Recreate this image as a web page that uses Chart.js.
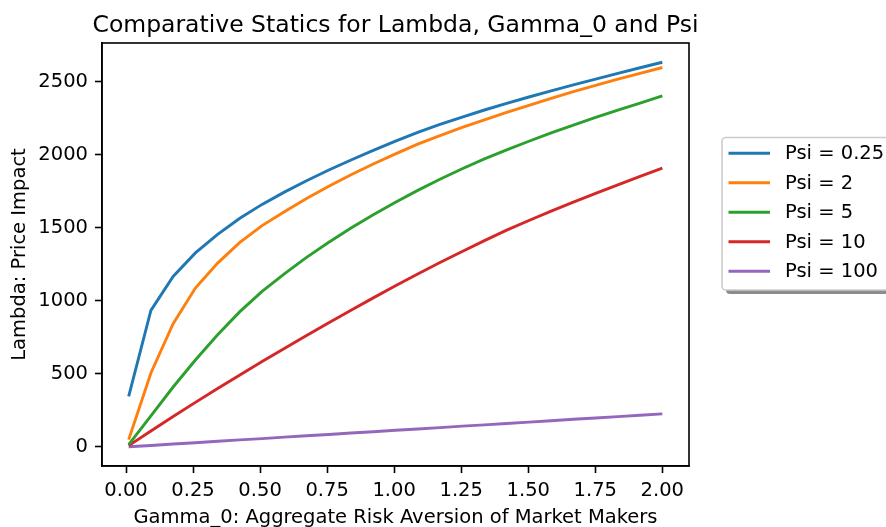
<!DOCTYPE html>
<html>
<head>
<meta charset="utf-8">
<script src="https://cdn.jsdelivr.net/npm/chart.js@4.4.0/dist/chart.umd.min.js"></script>
<style>
  html, body { margin: 0; padding: 0; background: #fff; }
  canvas { display: block; }
</style>
</head>
<body>
<canvas id="lambdaChart" width="886" height="527"></canvas>
<script>
// gamma_0 grid
const gamma0 = [0.0100, 0.0929, 0.1758, 0.2588, 0.3417, 0.4246, 0.5075, 0.5904, 0.6733, 0.7563,
  0.8392, 0.9221, 1.0050, 1.0879, 1.1708, 1.2538, 1.3367, 1.4196, 1.5025, 1.5854,
  1.6683, 1.7513, 1.8342, 1.9171, 2.0000];

const psiLabels = ['Psi = 0.25', 'Psi = 2', 'Psi = 5', 'Psi = 10', 'Psi = 100'];

const lambdaPsi025 = [346, 934, 1167, 1328, 1455, 1565, 1660, 1744, 1822, 1895, 1964, 2030, 2093,
  2153, 2207, 2258, 2306, 2351, 2395, 2437, 2478, 2518, 2557, 2595, 2633];
const lambdaPsi2 = [50, 506, 843, 1087, 1258, 1400, 1515, 1610, 1701, 1784, 1863, 1936, 2006,
  2072, 2131, 2187, 2239, 2289, 2338, 2386, 2432, 2475, 2517, 2557, 2597];
const lambdaPsi5 = [16, 212, 410, 595, 768, 926, 1065, 1185, 1297, 1401, 1498, 1589, 1675,
  1756, 1832, 1904, 1972, 2033, 2092, 2149, 2203, 2255, 2305, 2353, 2403];
const lambdaPsi10 = [9, 109, 208, 305, 400, 493, 584, 674, 763, 850, 936, 1020, 1103,
  1184, 1262, 1338, 1412, 1484, 1550, 1614, 1676, 1736, 1794, 1852, 1908];
const lambdaPsi100 = [1, 10, 20, 29, 39, 48, 57, 67, 76, 85, 95, 104, 114,
  123, 132, 142, 151, 160, 170, 179, 189, 198, 207, 217, 226];

const xTicks = [0, 0.25, 0.5, 0.75, 1, 1.25, 1.5, 1.75, 2];
const yTicks = [0, 500, 1000, 1500, 2000, 2500];

const colors = ['#1f77b4', '#ff7f0e', '#2ca02c', '#d62728', '#9467bd'];
const series = [lambdaPsi025, lambdaPsi2, lambdaPsi5, lambdaPsi10, lambdaPsi100];

const FONT = 'DejaVu Sans';

const mplFrame = {
  id: 'mplFrame',
  beforeDraw(chart) {
    const ctx = chart.ctx;
    ctx.save();
    ctx.fillStyle = '#fff';
    ctx.fillRect(0, 0, chart.width, chart.height);
    ctx.restore();
  },
  afterDraw(chart) {
    const { ctx, chartArea: a } = chart;
    ctx.save();

    // full box around the axes
    ctx.strokeStyle = '#000';
    ctx.lineWidth = 1.6;
    ctx.strokeRect(a.left, a.top, a.right - a.left, a.bottom - a.top);

    // title, centred over the axes
    ctx.fillStyle = '#000';
    ctx.font = '23.5px "' + FONT + '"';
    ctx.textAlign = 'center';
    ctx.textBaseline = 'alphabetic';
    ctx.fillText('Comparative Statics for Lambda, Gamma_0 and Psi', (a.left + a.right) / 2, a.top - 11);

    // legend outside, right of the axes
    const lx = a.right + 33, ly = 137.5, lw = 200, lh = 152.5;
    ctx.fillStyle = 'rgba(0,0,0,0.45)';
    roundRect(ctx, lx + 4, ly + 4, lw, lh, 4);
    ctx.fill();
    ctx.fillStyle = '#fff';
    ctx.strokeStyle = '#cccccc';
    ctx.lineWidth = 1.6;
    roundRect(ctx, lx, ly, lw, lh, 4);
    ctx.fill();
    ctx.stroke();

    ctx.font = '19.5px "' + FONT + '"';
    ctx.textAlign = 'left';
    ctx.textBaseline = 'middle';
    chart.data.datasets.forEach((ds, i) => {
      const ry = 153.3 + i * 29.5;
      ctx.strokeStyle = ds.borderColor;
      ctx.lineWidth = 2.9;
      ctx.beginPath();
      ctx.moveTo(lx + 6.5, ry);
      ctx.lineTo(lx + 48, ry);
      ctx.stroke();
      ctx.fillStyle = '#000';
      ctx.fillText(ds.label, lx + 63, ry + 1);
    });

    ctx.restore();
  }
};

function roundRect(ctx, x, y, w, h, r) {
  ctx.beginPath();
  ctx.moveTo(x + r, y);
  ctx.lineTo(x + w - r, y);
  ctx.arcTo(x + w, y, x + w, y + r, r);
  ctx.lineTo(x + w, y + h - r);
  ctx.arcTo(x + w, y + h, x + w - r, y + h, r);
  ctx.lineTo(x + r, y + h);
  ctx.arcTo(x, y + h, x, y + h - r, r);
  ctx.lineTo(x, y + r);
  ctx.arcTo(x, y, x + r, y, r);
  ctx.closePath();
}

const ctx = document.getElementById('lambdaChart').getContext('2d');

new Chart(ctx, {
  type: 'line',
  data: {
    datasets: series.map((vals, i) => ({
      label: psiLabels[i],
      data: vals.map((v, j) => ({ x: gamma0[j], y: v })),
      borderColor: colors[i],
      backgroundColor: colors[i],
      borderWidth: 2.9,
      pointRadius: 0,
      tension: 0,
      fill: false,
    })),
  },
  options: {
    responsive: false,
    animation: false,
    devicePixelRatio: 1,
    layout: { padding: { left: 0, right: 197, top: 43, bottom: 0 } },
    plugins: {
      legend: { display: false },
      title: { display: false },
      tooltip: { enabled: false },
    },
    scales: {
      x: {
        type: 'linear',
        min: -0.0895,
        max: 2.0995,
        afterFit: (scale) => { scale.height = 61; },
        afterBuildTicks: (scale) => { scale.ticks = xTicks.map(v => ({ value: v })); },
        grid: { drawOnChartArea: false, tickLength: 7, tickColor: '#000', tickWidth: 1.6 },
        border: { color: '#000', width: 1.6 },
        ticks: {
          color: '#000',
          padding: 6.5,
          maxRotation: 0,
          font: { family: FONT, size: 19.5 },
          callback: (v) => Number(v).toFixed(2),
        },
        title: {
          display: true,
          text: 'Gamma_0: Aggregate Risk Aversion of Market Makers',
          color: '#000',
          font: { family: FONT, size: 19.5, lineHeight: 1.0 },
          padding: { top: 0, bottom: -0.5 },
        },
      },
      y: {
        type: 'linear',
        min: -130.6,
        max: 2764.6,
        afterFit: (scale) => { scale.width = 102; },
        afterBuildTicks: (scale) => { scale.ticks = yTicks.map(v => ({ value: v })); },
        grid: { drawOnChartArea: false, tickLength: 7, tickColor: '#000', tickWidth: 1.6 },
        border: { color: '#000', width: 1.6 },
        ticks: {
          color: '#000',
          padding: 7,
          font: { family: FONT, size: 19.5 },
          callback: (v) => String(v),
        },
        title: {
          display: true,
          text: 'Lambda: Price Impact',
          color: '#000',
          font: { family: FONT, size: 19.5 },
          padding: { top: 8, bottom: 0 },
        },
      },
    },
  },
  plugins: [mplFrame],
});
</script>
</body>
</html>
